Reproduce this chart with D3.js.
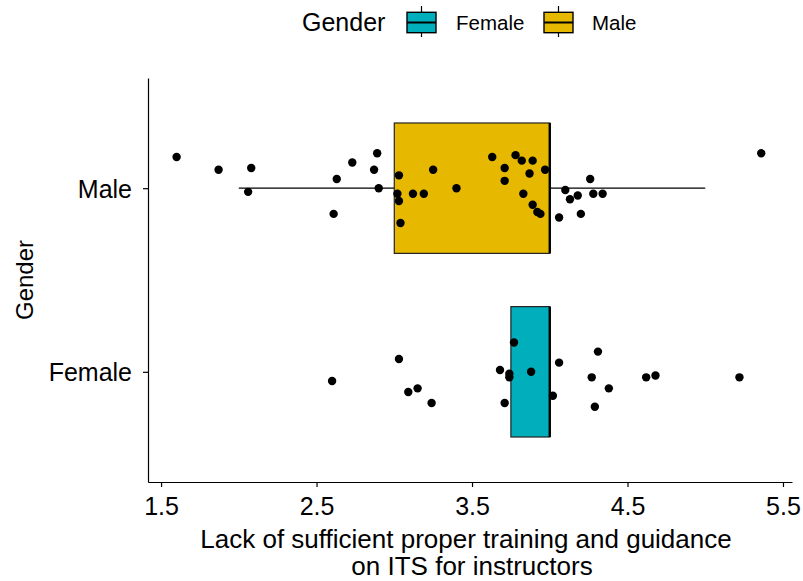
<!DOCTYPE html>
<html>
<head>
<meta charset="utf-8">
<script src="https://cdn.jsdelivr.net/npm/d3@7"></script>
<style>
  body { margin: 0; background: #fff; }
  svg { font-family: "Liberation Sans", Arial, sans-serif; }
</style>
</head>
<body>
<script>
// categories, bottom to top
const categories = ["Female", "Male"];
const fills = ["#00AFBB", "#E7B800"];

// box statistics per category (same order as categories)
const lowerWhisker = [3.75, 2];
const lowerHinge = [3.75, 3];
const medians = [4, 4];
const upperHinge = [4, 4];
const upperWhisker = [4, 5];

// jittered points: value and vertical jitter (category units)
const maleValues = [1.60, 1.87, 2.08, 2.06, 2.63, 2.61, 2.73, 2.89, 2.87, 2.90,
  3.03, 3.02, 3.03, 3.04, 3.12, 3.19, 3.25, 3.40, 3.63, 3.71,
  3.71, 3.78, 3.82, 3.89, 3.87, 3.83, 3.89, 3.92, 3.94, 3.97,
  4.10, 4.13, 4.18, 4.06, 4.26, 4.28, 4.34, 4.20, 5.36];
const maleJitter = [0.17, 0.10, 0.11, -0.02, 0.05, -0.14, 0.14, 0.19, 0.10, 0.00,
  0.07, -0.03, -0.07, -0.19, -0.03, -0.03, 0.10, 0.00, 0.17, 0.11,
  0.04, 0.18, 0.15, 0.15, 0.08, -0.03, -0.09, -0.13, -0.14, 0.10,
  -0.01, -0.06, -0.04, -0.16, 0.05, -0.03, -0.03, -0.14, 0.19];
const femaleValues = [2.60, 3.03, 3.09, 3.15, 3.24, 3.68, 3.74, 3.74, 3.77, 3.71,
  3.88, 4.06, 4.02, 4.27, 4.31, 4.38, 4.29, 4.62, 4.68, 5.22];
const femaleJitter = [-0.05, 0.07, -0.11, -0.09, -0.17, 0.01, -0.01, -0.03, 0.16, -0.17,
  0.00, 0.05, -0.13, -0.03, 0.11, -0.09, -0.19, -0.03, -0.02, -0.03];

const xTicks = [1.5, 2.5, 3.5, 4.5, 5.5];

const W = 803, H = 581;
const plotLeft = 148, plotRight = 792, plotTop = 78, plotBottom = 482;

const svg = d3.select("body").append("svg")
  .attr("width", W).attr("height", H);

const x = d3.scaleLinear().domain([1.416, 5.558]).range([plotLeft, plotRight]);
const y = d3.scaleLinear().domain([0.4, 2.6]).range([plotBottom, plotTop]);
const halfBox = 0.355;

// boxes
const boxes = svg.append("g").selectAll("g")
  .data(categories.map((c, i) => ({c, i})))
  .enter().append("g");

boxes.append("line")
  .attr("x1", d => x(lowerWhisker[d.i])).attr("x2", d => x(lowerHinge[d.i]))
  .attr("y1", d => y(d.i + 1)).attr("y2", d => y(d.i + 1))
  .attr("stroke", "#000").attr("stroke-width", 1.2);
boxes.append("line")
  .attr("x1", d => x(upperHinge[d.i])).attr("x2", d => x(upperWhisker[d.i]))
  .attr("y1", d => y(d.i + 1)).attr("y2", d => y(d.i + 1))
  .attr("stroke", "#000").attr("stroke-width", 1.2);
boxes.append("rect")
  .attr("x", d => x(lowerHinge[d.i]))
  .attr("width", d => x(upperHinge[d.i]) - x(lowerHinge[d.i]))
  .attr("y", d => y(d.i + 1 + halfBox))
  .attr("height", d => y(d.i + 1 - halfBox) - y(d.i + 1 + halfBox))
  .attr("fill", d => fills[d.i])
  .attr("stroke", "#222").attr("stroke-width", 1.2);
boxes.append("line")
  .attr("x1", d => x(medians[d.i])).attr("x2", d => x(medians[d.i]))
  .attr("y1", d => y(d.i + 1 + halfBox)).attr("y2", d => y(d.i + 1 - halfBox))
  .attr("stroke", "#000").attr("stroke-width", 2.4);

// points
const pts = [];
femaleValues.forEach((v, i) => pts.push({v, g: 1 + femaleJitter[i]}));
maleValues.forEach((v, i) => pts.push({v, g: 2 + maleJitter[i]}));
svg.append("g").selectAll("circle")
  .data(pts).enter().append("circle")
  .attr("cx", d => x(d.v)).attr("cy", d => y(d.g))
  .attr("r", 4.2).attr("fill", "#000");

// axes
const xAxis = svg.append("g")
  .attr("transform", `translate(0,${plotBottom})`)
  .call(d3.axisBottom(x).tickValues(xTicks).tickFormat(d3.format(".1f"))
    .tickSize(5).tickSizeOuter(0).tickPadding(10));
const yAxis = svg.append("g")
  .attr("transform", `translate(${plotLeft},0)`)
  .call(d3.axisLeft(y).tickValues([1, 2]).tickFormat(d => categories[d - 1])
    .tickSize(5).tickSizeOuter(0).tickPadding(11));

[xAxis, yAxis].forEach(a => {
  a.select(".domain").attr("stroke", "#000").attr("stroke-width", 1.2);
  a.selectAll(".tick line").attr("stroke", "#000").attr("stroke-width", 1.2);
  a.selectAll("text").attr("fill", "#000")
    .style("font-family", "'Liberation Sans', Arial, sans-serif")
    .style("font-size", "25px");
});
yAxis.selectAll("text").attr("dy", "0.36em");
xAxis.selectAll("text").attr("dy", "0.72em");

// axis titles
svg.append("text")
  .attr("x", 466).attr("y", 548)
  .attr("text-anchor", "middle").attr("font-size", 26)
  .text("Lack of sufficient proper training and guidance");
svg.append("text")
  .attr("x", 472).attr("y", 575)
  .attr("text-anchor", "middle").attr("font-size", 26)
  .text("on ITS for instructors");
svg.append("text")
  .attr("transform", "translate(33,280) rotate(-90)")
  .attr("text-anchor", "middle").attr("font-size", 24)
  .text("Gender");

// legend
const legend = svg.append("g");
legend.append("text")
  .attr("x", 302).attr("y", 31)
  .attr("font-size", 25).text("Gender");
const keyX = [407, 544], labelX = [456, 592];
categories.forEach((c, i) => {
  const k = legend.append("g").attr("transform", `translate(${keyX[i]},0)`);
  k.append("line").attr("x1", 14.5).attr("x2", 14.5).attr("y1", 6).attr("y2", 37)
    .attr("stroke", "#000").attr("stroke-width", 1.2);
  k.append("rect").attr("x", 0).attr("y", 12.3).attr("width", 29).attr("height", 20.4)
    .attr("fill", fills[i]).attr("stroke", "#000").attr("stroke-width", 1.4);
  k.append("line").attr("x1", 0).attr("x2", 29).attr("y1", 22.5).attr("y2", 22.5)
    .attr("stroke", "#000").attr("stroke-width", 2);
  legend.append("text")
    .attr("x", labelX[i]).attr("y", 29.5)
    .attr("font-size", 20.5).text(c);
});
</script>
</body>
</html>
